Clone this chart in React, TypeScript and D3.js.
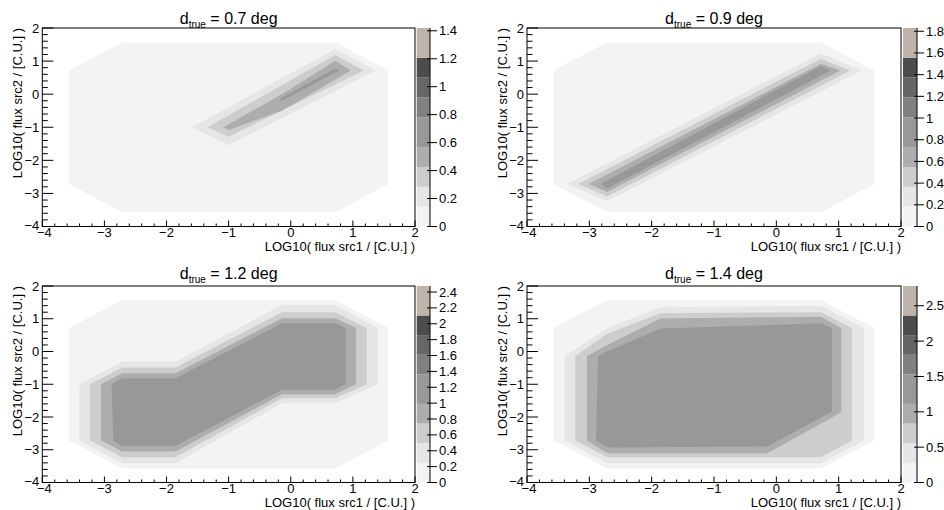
import React from "react";
import * as d3 from "d3";

type Pt = [number, number];

// ---------- data ----------
const titles = ["0.7", "0.9", "1.2", "1.4"];
const zMax = [1.42, 1.83, 2.476, 2.78];
const paletteTicks: number[][] = [
  [0, 0.2, 0.4, 0.6, 0.8, 1, 1.2, 1.4],
  [0, 0.2, 0.4, 0.6, 0.8, 1, 1.2, 1.4, 1.6, 1.8],
  [0, 0.2, 0.4, 0.6, 0.8, 1, 1.2, 1.4, 1.6, 1.8, 2, 2.2, 2.4],
  [0, 0.5, 1, 1.5, 2, 2.5],
];
const contourLevelFractions = [0, 0.1, 0.2, 0.3, 0.4, 0.55, 0.65, 0.75, 0.85, 1];
const palette = ["#f2f3f5", "#e6e6e6", "#cdcdcd", "#adadad", "#989898", "#808080", "#666666", "#4b4d4c", "#bdb3a9"];
const axisTicks = [-4, -3, -2, -1, 0, 1, 2];

const outer: Pt[] = [[-3.571, 0.714], [-2.714, 1.571], [0.714, 1.571], [1.571, 0.714], [1.571, -2.714], [0.714, -3.571], [-2.714, -3.571], [-3.571, -2.714]];

const contoursP1: Pt[][] = [
  outer,
  [[-1.594, -1.0], [0.714, 1.363], [1.376, 0.714], [-1.0, -1.54]],
  [[-1.342, -1.0], [0.714, 1.181], [1.172, 0.714], [-1.0, -1.286]],
  [[-1.084, -1.0], [-0.143, 0.0], [0.714, 1.009], [0.968, 0.714], [-0.143, -0.5], [-1.0, -1.08]],
  [[-0.16, -0.12], [0.714, 0.77], [0.78, 0.714], [-0.143, -0.2]],
];
const contoursP2: Pt[][] = [
  outer,
  [[-3.358, -2.714], [0.714, 1.24], [1.37, 0.714], [-2.714, -3.24]],
  [[-3.18, -2.714], [0.714, 1.07], [1.187, 0.714], [-2.714, -3.09]],
  [[-3.01, -2.714], [0.714, 0.916], [1.027, 0.714], [-2.714, -2.96]],
  [[-2.82, -2.714], [0.714, 0.85], [0.87, 0.714], [-2.714, -2.85]],
];
const contoursP3: Pt[][] = [
  outer,
  [[-3.404, -1.0], [-2.714, -0.31], [-1.857, -0.31], [-0.143, 1.42], [0.714, 1.42], [1.4, 0.714], [1.4, -1.0], [0.714, -1.58], [-0.143, -1.58], [-1.857, -3.41], [-2.714, -3.41], [-3.404, -2.714]],
  [[-3.232, -1.0], [-2.714, -0.49], [-1.857, -0.49], [-0.143, 1.196], [0.714, 1.196], [1.223, 0.714], [1.223, -1.0], [0.714, -1.43], [-0.143, -1.43], [-1.857, -3.23], [-2.714, -3.23], [-3.232, -2.714]],
  [[-3.055, -1.0], [-2.714, -0.665], [-1.857, -0.665], [-0.143, 1.013], [0.714, 1.013], [1.051, 0.714], [1.051, -1.0], [0.714, -1.306], [-0.143, -1.306], [-1.857, -3.056], [-2.714, -3.056], [-3.055, -2.714]],
  [[-2.884, -1.0], [-2.714, -0.818], [-1.857, -0.818], [-0.143, 0.861], [0.714, 0.861], [0.885, 0.714], [0.885, -1.0], [0.714, -1.174], [-0.143, -1.174], [-1.857, -2.883], [-2.714, -2.883], [-2.857, -2.714]],
];
const contoursP4: Pt[][] = [
  outer,
  [[-3.396, -0.143], [-2.714, 0.708], [-1.857, 1.35], [0.714, 1.4], [1.401, 0.714], [1.401, -2.714], [0.714, -3.41], [-2.714, -3.41], [-3.396, -2.714]],
  [[-3.225, -0.143], [-2.714, 0.54], [-1.857, 1.17], [0.714, 1.2], [1.214, 0.714], [1.214, -2.714], [0.714, -3.23], [-2.714, -3.23], [-3.225, -2.714]],
  [[-3.037, -0.143], [-2.714, 0.2], [-1.857, 1.01], [0.714, 1.06], [1.043, 0.714], [1.043, -1.857], [-0.143, -3.11], [-2.714, -3.11], [-3.037, -2.714]],
  [[-2.86, -0.143], [-2.714, 0.0], [-1.857, 0.705], [0.714, 0.86], [0.893, 0.714], [0.893, -1.835], [-0.143, -2.9], [-2.714, -2.93], [-2.893, -2.714]],
];
const allContours = [contoursP1, contoursP2, contoursP3, contoursP4];

// ---------- layout ----------
const W = 944;
const H = 510;
const FONT = "'Liberation Sans', Arial, Helvetica, sans-serif";
const layouts = [
  { fx0: 42.3, fx1: 415, fy0: 28, fy1: 226.5, cb0: 416.7, cb1: 430, yTitleX: 21.5, titleY: 23.5 },
  { fx0: 527, fx1: 901, fy0: 28, fy1: 226.5, cb0: 903, cb1: 917, yTitleX: 506.5, titleY: 23.5 },
  { fx0: 42.3, fx1: 415, fy0: 286, fy1: 482.5, cb0: 416.7, cb1: 430, yTitleX: 21.5, titleY: 279 },
  { fx0: 527, fx1: 901, fy0: 286, fy1: 482.5, cb0: 903, cb1: 917, yTitleX: 506.5, titleY: 279 },
];

const fmt = (v: number) => (v < 0 ? "\u2212" + String(-v) : String(v));

function Panel({ idx }: { idx: number }) {
  const L = layouts[idx];
  const x = d3.scaleLinear().domain([-4, 2]).range([L.fx0, L.fx1]);
  const y = d3.scaleLinear().domain([-4, 2]).range([L.fy1, L.fy0]);
  const z = d3.scaleLinear().domain([0, zMax[idx]]).range([L.fy1, L.fy0]);
  const line = d3.line<Pt>().x((d) => x(d[0])).y((d) => y(d[1]));
  const minor = d3.range(-4, 2.0001, 0.2);
  const levels = contourLevelFractions.map((f) => f * zMax[idx]);
  const fsz = 13;
  return (
    <g>
      {allContours[idx].map((poly, i) => (
        <path key={i} d={line(poly) + "Z"} fill={palette[i]} stroke="none" />
      ))}
      <rect x={L.fx0} y={L.fy0} width={L.fx1 - L.fx0} height={L.fy1 - L.fy0} fill="none" stroke="#000" strokeWidth={1} />
      {minor.map((v, i) => {
        const major = Math.abs(v - Math.round(v)) < 1e-6;
        return <line key={"xm" + i} x1={x(v)} x2={x(v)} y1={L.fy1} y2={L.fy1 - (major ? 6 : 3)} stroke="#000" />;
      })}
      {minor.map((v, i) => {
        const major = Math.abs(v - Math.round(v)) < 1e-6;
        return <line key={"ym" + i} y1={y(v)} y2={y(v)} x1={L.fx0} x2={L.fx0 + (major ? 11 : 5.5)} stroke="#000" />;
      })}
      {axisTicks.map((v) => (
        <text key={"xl" + v} x={x(v) + (v === -4 ? 2 : 0)} y={L.fy1 + 10} fontSize={fsz} textAnchor="middle" fontFamily={FONT}>
          {fmt(v)}
        </text>
      ))}
      {axisTicks.map((v) => (
        <text key={"yl" + v} x={L.fx0 - 3} y={y(v) - (v === -4 ? 1 : 0)} dy="0.35em" fontSize={fsz} textAnchor="end" fontFamily={FONT}>
          {fmt(v)}
        </text>
      ))}
      <text x={L.fx1} y={L.fy1 + 24} fontSize={fsz} textAnchor="end" fontFamily={FONT}>
        LOG10( flux src1 / [C.U.] )
      </text>
      <text transform={`translate(${L.yTitleX},${L.fy0}) rotate(-90)`} fontSize={fsz} textAnchor="end" fontFamily={FONT}>
        LOG10( flux src2 / [C.U.] )
      </text>
      <text x={(L.fx0 + L.fx1) / 2} y={L.titleY} fontSize={16} textAnchor="middle" fontFamily={FONT}>
        d
        <tspan fontSize={10} dy={4}>true</tspan>
        <tspan dy={-4}>{` = ${titles[idx]} deg`}</tspan>
      </text>
      {palette.map((c, i) => (
        <rect key={"cb" + i} x={L.cb0} width={L.cb1 - L.cb0} y={z(levels[i + 1])} height={z(levels[i]) - z(levels[i + 1])} fill={c} />
      ))}
      <line x1={L.cb1} x2={L.cb1} y1={L.fy0} y2={L.fy1} stroke="#000" />
      {paletteTicks[idx].map((v) => (
        <g key={"pt" + v}>
          <line x1={L.cb1 - 3} x2={L.cb1 + 7} y1={z(v)} y2={z(v)} stroke="#000" />
          <text x={L.cb1 + 9} y={z(v)} dy="0.35em" fontSize={fsz} fontFamily={FONT}>
            {fmt(v)}
          </text>
        </g>
      ))}
    </g>
  );
}

export default function App() {
  return (
    <svg width={W} height={H} style={{ position: "absolute", left: 0, top: 0, background: "#fff" }}>
      <rect width={W} height={H} fill="#fff" />
      {[0, 1, 2, 3].map((i) => (
        <Panel key={i} idx={i} />
      ))}
    </svg>
  );
}
